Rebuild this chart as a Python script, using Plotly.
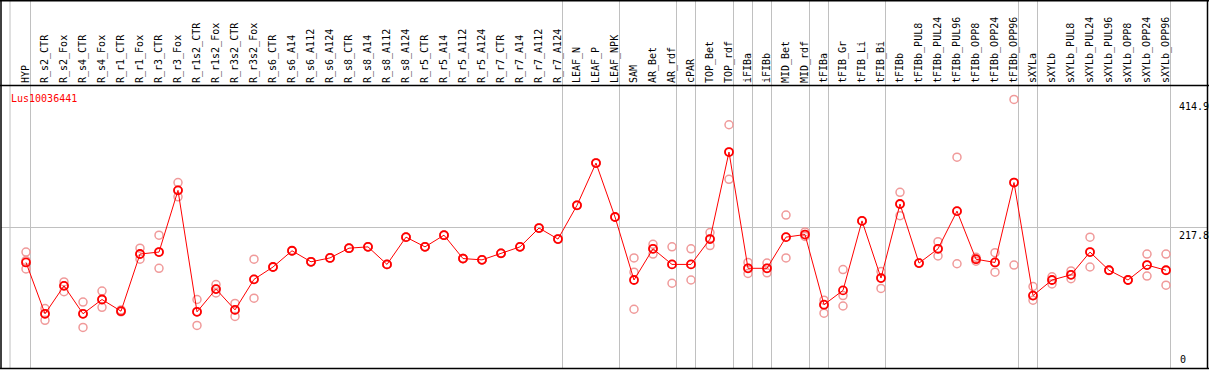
import plotly.graph_objects as go

categories = ["HYP", "R_s2_CTR", "R_s2_Fox", "R_s4_CTR", "R_s4_Fox", "R_r1_CTR", "R_r1_Fox",
              "R_r3_CTR", "R_r3_Fox", "R_r1s2_CTR", "R_r1s2_Fox", "R_r3s2_CTR", "R_r3s2_Fox",
              "R_s6_CTR", "R_s6_A14", "R_s6_A112", "R_s6_A124", "R_s8_CTR", "R_s8_A14",
              "R_s8_A112", "R_s8_A124", "R_r5_CTR", "R_r5_A14", "R_r5_A112", "R_r5_A124",
              "R_r7_CTR", "R_r7_A14", "R_r7_A112", "R_r7_A124", "LEAF_N", "LEAF_P", "LEAF_NPK",
              "SAM", "AR_Bet", "AR_rdf", "cPAR", "TOP_Bet", "TOP_rdf", "iFIBa", "iFIBb",
              "MID_Bet", "MID_rdf", "tFIBa", "tFIB_Gr", "tFIB_Li", "tFIB_Bi", "tFIBb",
              "tFIBb_PUL8", "tFIBb_PUL24", "tFIBb_PUL96", "tFIBb_OPP8", "tFIBb_OPP24",
              "tFIBb_OPP96", "sXYLa", "sXYLb", "sXYLb_PUL8", "sXYLb_PUL24", "sXYLb_PUL96",
              "sXYLb_OPP8", "sXYLb_OPP24", "sXYLb_OPP96"]

mean_values = [164, 85, 128, 85, 107, 89, 177, 180, 275, 88, 123, 91, 138,
               157, 182, 165, 171, 186, 188, 161, 203, 188, 206, 170, 168, 178, 188, 217, 200,
               252, 317, 234, 137, 185, 161, 161, 200, 334, 155, 155, 203, 207,
               99, 121, 228, 140, 254, 163, 185, 243, 169, 164, 287,
               113, 137, 145, 180, 152, 137, 160, 152]

rep1 = [180, 93, 134, 103, 120, 91, 186, 206, 287, 107, 130, 101, 169,
        157, 182, 165, 171, 186, 188, 161, 203, 188, 206, 170, 168, 178, 188, 217, 200,
        252, 317, 234, 171, 192, 188, 185, 210, 376, 164, 163, 237, 211,
        106, 153, 228, 150, 272, 163, 196, 326, 172, 179, 414.9,
        127, 142, 151, 203, 152, 137, 177, 177]

rep2 = [167, 85, 128, 85, 107, 89, 177, 180, 275, 88, 123, 91, 138,
        157, 182, 165, 171, 186, 188, 161, 203, 188, 206, 170, 168, 178, 188, 217, 200,
        252, 317, 234, 149, 185, 161, 161, 200, 334, 155, 155, 203, 207,
        99, 113, 228, 140, 254, 163, 185, 243, 169, 164, 287,
        113, 137, 145, 180, 152, 137, 160, 152]

rep3 = [154, 75, 119, 64, 95, 88, 169, 155, 265, 67, 117, 81, 109,
        157, 182, 165, 171, 186, 188, 161, 203, 188, 206, 170, 168, 178, 188, 217, 200,
        252, 317, 234, 92, 177, 132, 137, 190, 292, 147, 148, 171, 204,
        86, 97, 228, 124, 236, 163, 174, 162, 166, 149, 160,
        106, 131, 139, 157, 152, 137, 143, 129]

group_ends = [0, 28, 31, 34, 35, 37, 38, 39, 41, 42, 45, 52, 53, 60]

title_text = "Lus10036441"
y_max = 414.9
y_mid = 217.8

FONT = "DejaVu Sans Mono"
W, H = 1209, 370
L, R, T, B = 1, 38, 86, 1
PW = W - L - R
PH = H - T - B
SPACING = PW / (len(categories) + 0.579)
xmin = -25 / SPACING
xmax = xmin + PW / SPACING


def px_to_paper_x(px):
    return (px - L) / PW


def py_to_paper_y(py):
    return (H - B - py) / PH


xs = list(range(len(categories)))

fig = go.Figure()

rep_color = "#f09a9a"
for reps in (rep1, rep2, rep3):
    fig.add_trace(go.Scatter(
        x=xs, y=reps, mode="markers",
        marker=dict(symbol="circle-open", size=8, color=rep_color, line=dict(width=1.5, color=rep_color)),
        showlegend=False, hoverinfo="skip"))

fig.add_trace(go.Scatter(
    x=xs, y=mean_values, mode="lines+markers",
    line=dict(color="#ff0000", width=1),
    marker=dict(symbol="circle-open", size=8, color="#ff0000", line=dict(width=1.8, color="#ff0000")),
    showlegend=False))

shapes = []
gray = "#c0c0c0"
top_paper = py_to_paper_y(0)
sep_positions = [-16 / 19] + [g + 4.5 / 19 for g in group_ends]
for sx in sep_positions:
    shapes.append(dict(type="line", xref="x", yref="paper", x0=sx, x1=sx, y0=0, y1=top_paper,
                       line=dict(color=gray, width=1), layer="below"))
shapes.append(dict(type="line", xref="paper", yref="y", x0=0, x1=px_to_paper_x(W - 1),
                   y0=y_mid, y1=y_mid, line=dict(color=gray, width=1), layer="below"))
black = "#000000"
shapes.append(dict(type="line", xref="paper", yref="paper", x0=px_to_paper_x(1), x1=px_to_paper_x(1),
                   y0=py_to_paper_y(369), y1=top_paper, line=dict(color=black, width=1.5)))
shapes.append(dict(type="line", xref="paper", yref="paper", x0=px_to_paper_x(W - 1.5), x1=px_to_paper_x(W - 1.5),
                   y0=py_to_paper_y(369), y1=top_paper, line=dict(color=black, width=1.5)))
shapes.append(dict(type="line", xref="paper", yref="paper", x0=px_to_paper_x(0), x1=px_to_paper_x(W),
                   y0=py_to_paper_y(0.75), y1=py_to_paper_y(0.75), line=dict(color=black, width=1.5)))
shapes.append(dict(type="line", xref="paper", yref="paper", x0=px_to_paper_x(0), x1=px_to_paper_x(W),
                   y0=py_to_paper_y(85.5), y1=py_to_paper_y(85.5), line=dict(color=black, width=1.5)))
shapes.append(dict(type="line", xref="paper", yref="paper", x0=px_to_paper_x(0), x1=px_to_paper_x(W),
                   y0=py_to_paper_y(368.5), y1=py_to_paper_y(368.5), line=dict(color=black, width=1.5)))

annotations = [
    dict(text=title_text, xref="paper", yref="paper", x=px_to_paper_x(9), y=py_to_paper_y(91),
         xanchor="left", yanchor="top", showarrow=False, font=dict(family=FONT, size=10, color="#ff0000")),
    dict(text=f"{y_max:.1f}", xref="paper", yref="y", x=px_to_paper_x(1177), y=y_max,
         xanchor="left", yanchor="top", showarrow=False, font=dict(family=FONT, size=10, color="#000000")),
    dict(text=f"{y_mid:.1f}", xref="paper", yref="y", x=px_to_paper_x(1177), y=y_mid,
         xanchor="left", yanchor="top", showarrow=False, font=dict(family=FONT, size=10, color="#000000")),
    dict(text="0", xref="paper", yref="y", x=px_to_paper_x(1178), y=0,
         xanchor="left", yanchor="bottom", yshift=2, showarrow=False,
         font=dict(family=FONT, size=10, color="#000000")),
]

fig.update_layout(
    width=W, height=H,
    margin=dict(l=L, r=R, t=T, b=B, pad=0),
    paper_bgcolor="white", plot_bgcolor="white",
    shapes=shapes, annotations=annotations,
    xaxis=dict(range=[xmin, xmax], side="top", tickmode="array", tickvals=xs, ticktext=categories,
               tickangle=-90, showgrid=False, zeroline=False, showline=False, ticks="",
               tickfont=dict(family=FONT, size=10, color="#000000"), ticklabelstandoff=2),
    yaxis=dict(range=[0, y_max * 1.05], showgrid=False, zeroline=False, showticklabels=False,
               showline=False, ticks=""),
)

fig.write_html("out.html", config={"displayModeBar": False},
               post_script="document.body.style.margin='0';document.body.style.overflow='hidden';")
